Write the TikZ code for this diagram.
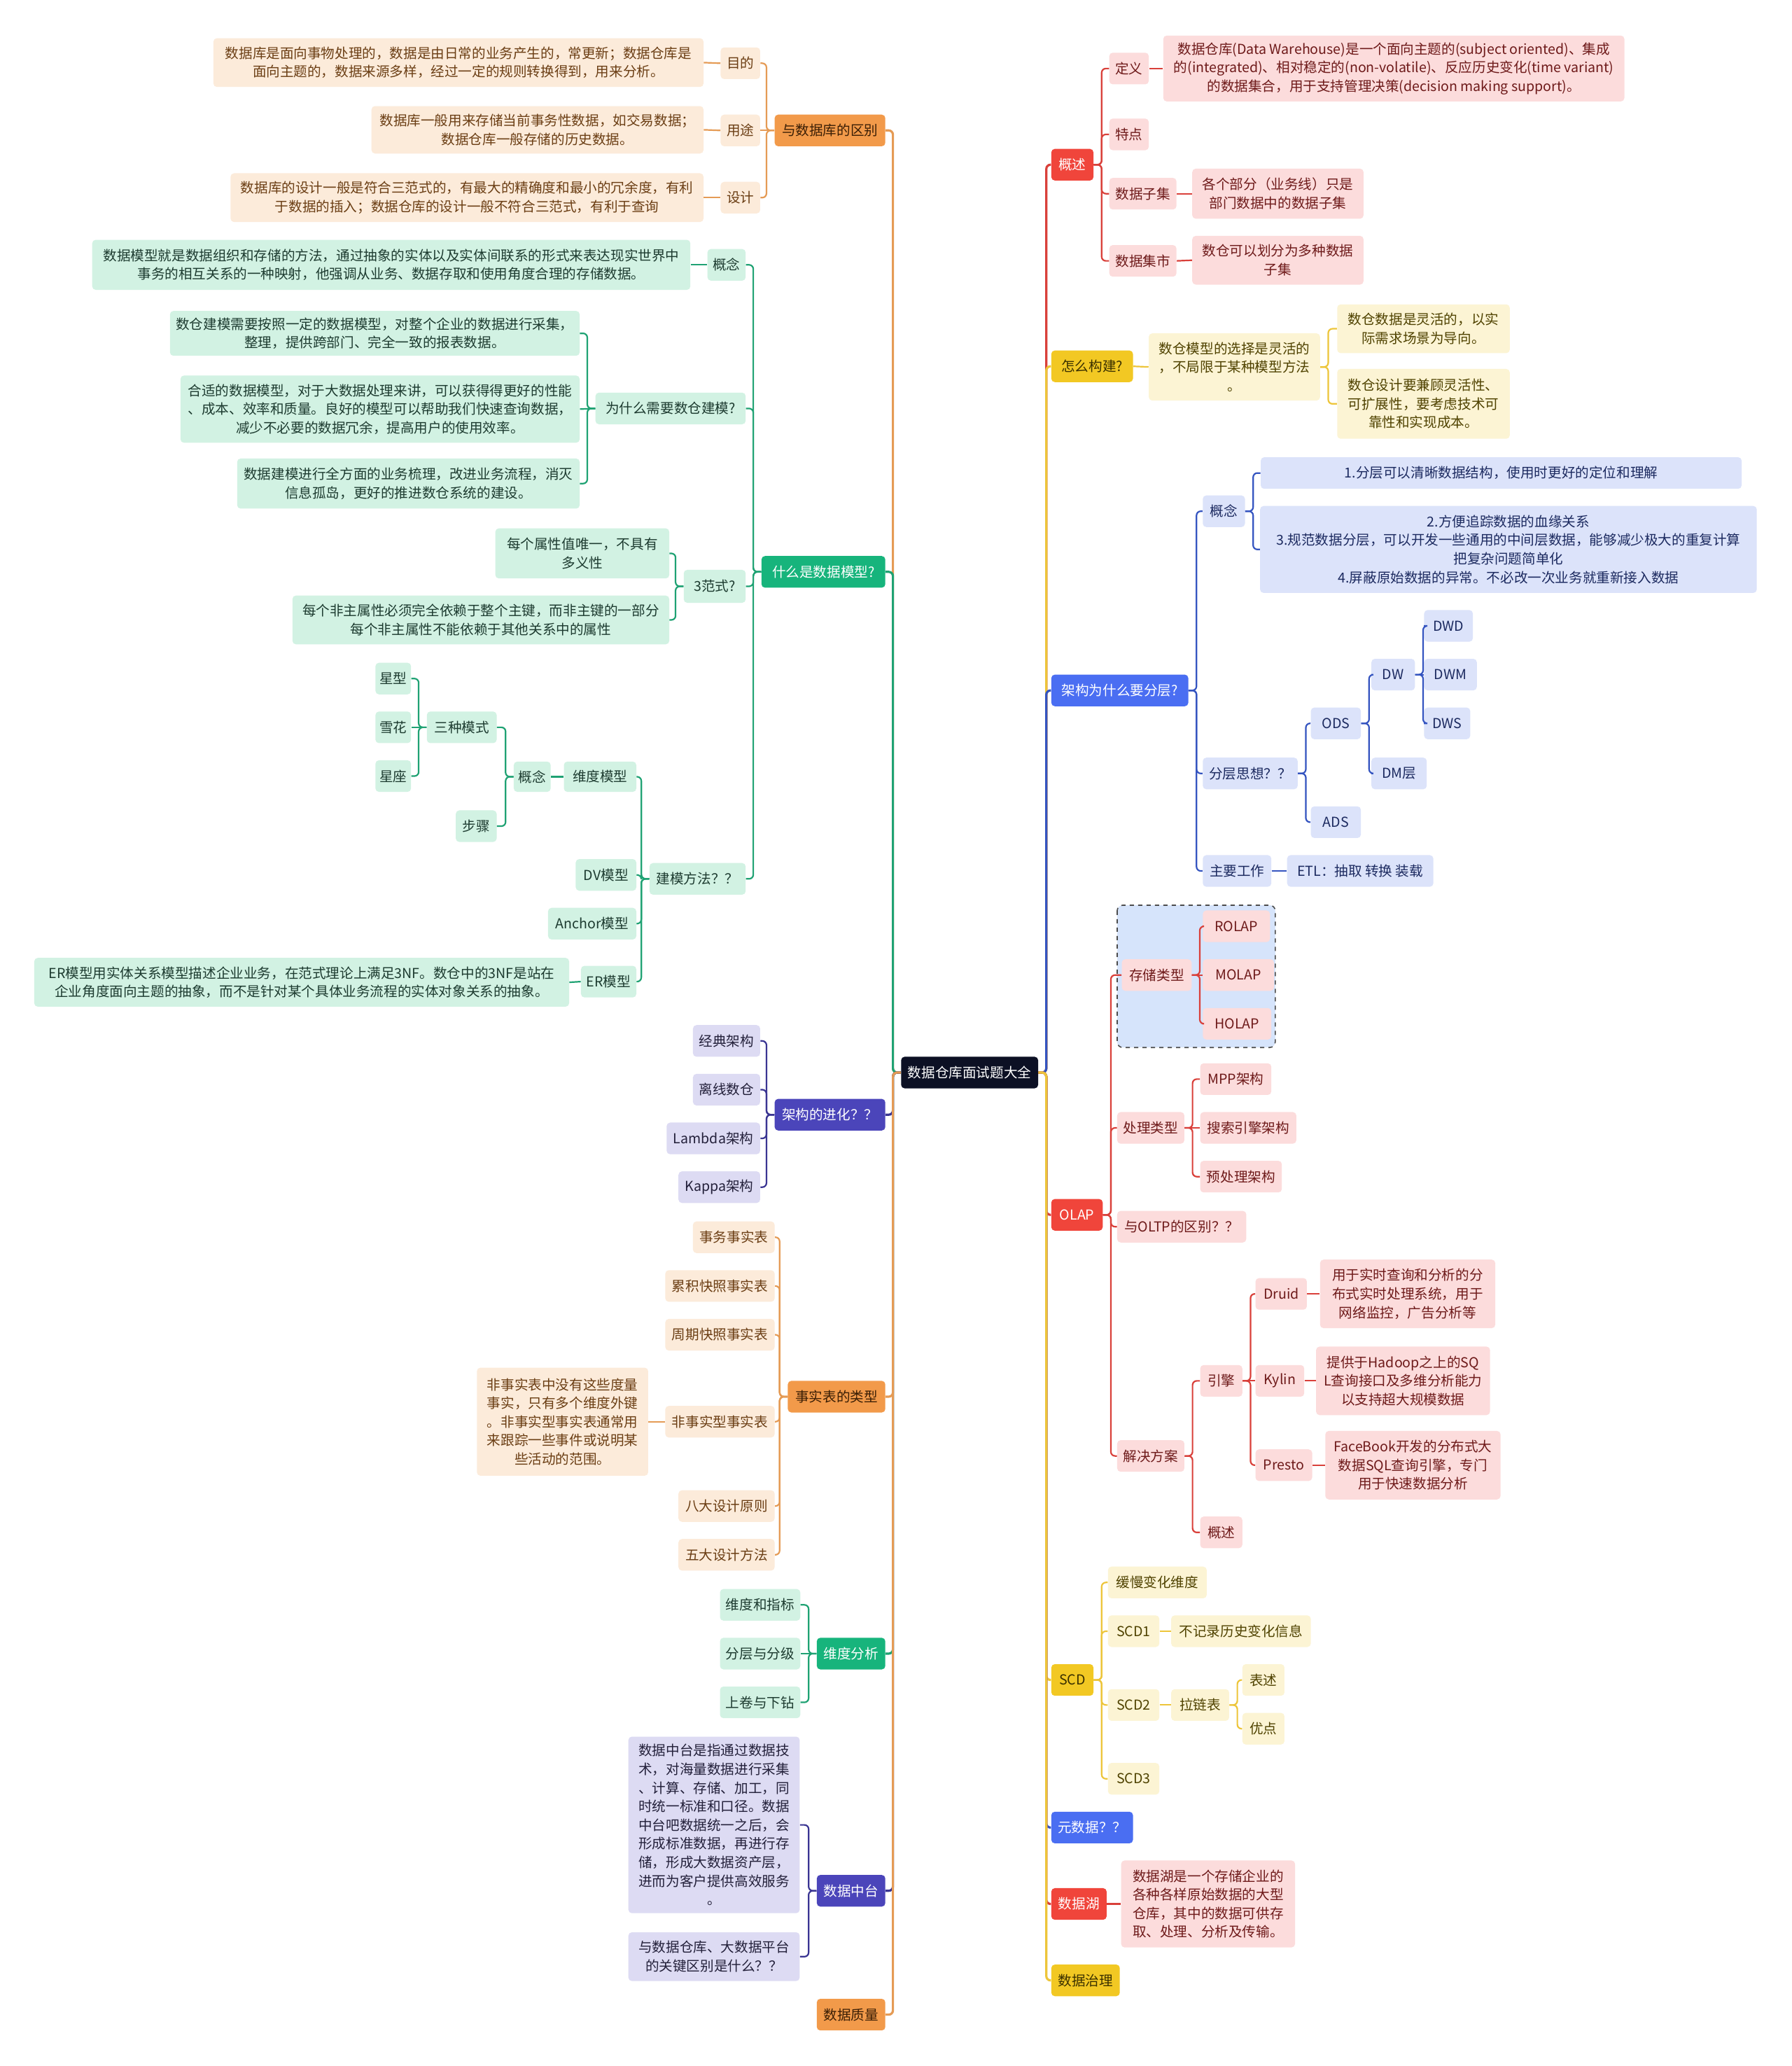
\documentclass[tikz,border=0pt]{standalone}
\usepackage{fontspec}
\setmainfont{Noto Sans CJK SC}
\usetikzlibrary{calc}
\definecolor{rootC}{HTML}{0C1024}
\definecolor{orM}{HTML}{F29A4A}\definecolor{orL}{HTML}{FCEBDA}\definecolor{orT}{HTML}{6B3E14}\definecolor{orMT}{HTML}{3A1E05}\definecolor{orC}{HTML}{E59B55}
\definecolor{grM}{HTML}{17B47C}\definecolor{grL}{HTML}{D2F2E3}\definecolor{grT}{HTML}{1D3B30}\definecolor{grC}{HTML}{1FA273}
\definecolor{puM}{HTML}{4B45BA}\definecolor{puL}{HTML}{DDDBF3}\definecolor{puT}{HTML}{23203A}\definecolor{puC}{HTML}{3A3592}
\definecolor{rdM}{HTML}{F0453B}\definecolor{rdL}{HTML}{FCDCDC}\definecolor{rdT}{HTML}{6E1A1A}\definecolor{rdC}{HTML}{D9403A}
\definecolor{ylM}{HTML}{F2C823}\definecolor{ylL}{HTML}{FCF4D4}\definecolor{ylT}{HTML}{4F4200}\definecolor{ylMT}{HTML}{3A3000}\definecolor{ylC}{HTML}{EDC53A}
\definecolor{blM}{HTML}{4A6EF2}\definecolor{blL}{HTML}{DCE3FA}\definecolor{blT}{HTML}{1C2A60}\definecolor{blC}{HTML}{3454C0}
\definecolor{grpC}{HTML}{D6E4FB}
\tikzset{
 base/.style={rounded corners=2.5pt, inner xsep=2pt, inner ysep=1pt, align=center, font=\fontsize{9.8}{13.3}\selectfont},
 sz/.style 2 args={minimum width=#1*0.9412pt, minimum height=#2*0.9412pt},
 rootst/.style={base, fill=rootC, text=white},
 mO/.style={base, fill=orM, text=orMT}, lO/.style={base, fill=orL, text=orT},
 mG/.style={base, fill=grM, text=white}, lG/.style={base, fill=grL, text=grT},
 mP/.style={base, fill=puM, text=white}, lP/.style={base, fill=puL, text=puT},
 mR/.style={base, fill=rdM, text=white}, lR/.style={base, fill=rdL, text=rdT},
 mY/.style={base, fill=ylM, text=ylMT}, lY/.style={base, fill=ylL, text=ylT},
 mB/.style={base, fill=blM, text=white}, lB/.style={base, fill=blL, text=blT},
 cO/.style={draw=orC, line width=1.1pt, rounded corners=3pt},
 cG/.style={draw=grC, line width=1.1pt, rounded corners=3pt},
 cP/.style={draw=puC, line width=1.1pt, rounded corners=3pt},
 cR/.style={draw=rdC, line width=1.1pt, rounded corners=3pt},
 cY/.style={draw=ylC, line width=1.1pt, rounded corners=3pt},
 cB/.style={draw=blC, line width=1.1pt, rounded corners=3pt},
 trunk/.style={line width=1.6pt},
}
\newcommand\Lk[3]{\draw[#1] (#2.west) -- ++(-6,0) |- (#3.east);}
\newcommand\Rk[3]{\draw[#1] (#2.east) -- ++(6,0) |- (#3.west);}
\newcommand\Ls[3]{\draw[#1] (#2.west) -- (#3.east);}
\newcommand\Rs[3]{\draw[#1] (#2.east) -- (#3.west);}
\begin{document}
\begin{tikzpicture}[x=0.9412pt, y=-0.9412pt]
\useasboundingbox (0,0) rectangle (1360,1568);
\fill[white] (0,0) rectangle (1360,1568);
\draw[dashed, draw=black!70, fill=grpC, rounded corners=4pt, line width=0.8pt] (848,687) rectangle (968,795);

% root
\node[rootst, sz={104}{24}] (root) at (736,814) {数据仓库面试题大全};

% ---------- left 1
\node[mO, sz={84}{24}] (b1) at (630,99) {与数据库的区别};
\node[lO, sz={30}{24}] (b1a) at (562,48) {目的};
\node[lO, sz={30}{24}] (b1b) at (562,99) {用途};
\node[lO, sz={30}{24}] (b1c) at (562,150) {设计};
\node[lO, sz={372}{37}] (b1a1) at (348,47.5) {数据库是面向事物处理的，数据是由日常的业务产生的，常更新；数据仓库是\\面向主题的，数据来源多样，经过一定的规则转换得到，用来分析。};
\node[lO, sz={252}{36}] (b1b1) at (408,98.5) {数据库一般用来存储当前事务性数据，如交易数据；\\数据仓库一般存储的历史数据。};
\node[lO, sz={359}{37}] (b1c1) at (354.5,150) {数据库的设计一般是符合三范式的，有最大的精确度和最小的冗余度，有利\\于数据的插入；数据仓库的设计一般不符合三范式，有利于查询};

% ---------- left 2
\node[mG, sz={94}{24}] (b2) at (625,434) {什么是数据模型?};
\node[lG, sz={29}{24}] (b2a) at (551.5,201) {概念};
\node[lG, sz={454}{38}] (b2a1) at (297,201) {数据模型就是数据组织和存储的方法，通过抽象的实体以及实体间联系的形式来表达现实世界中\\事务的相互关系的一种映射，他强调从业务、数据存取和使用角度合理的存储数据。};
\node[lG, sz={114}{24}] (b2b) at (509,310) {为什么需要数仓建模?};
\node[lG, sz={311}{34}] (b2b1) at (284.5,253) {数仓建模需要按照一定的数据模型，对整个企业的数据进行采集，\\整理，提供跨部门、完全一致的报表数据。};
\node[lG, sz={303}{51}] (b2b2) at (288.5,310.5) {合适的数据模型，对于大数据处理来讲，可以获得得更好的性能\\、成本、效率和质量。良好的模型可以帮助我们快速查询数据，\\减少不必要的数据冗余，提高用户的使用效率。};
\node[lG, sz={260}{38}] (b2b3) at (310,367) {数据建模进行全方面的业务梳理，改进业务流程，消灭\\信息孤岛，更好的推进数仓系统的建设。};
\node[lG, sz={47}{25}] (b2c) at (542.5,445) {3范式?};
\node[lG, sz={132}{38}] (b2c1) at (442,420) {每个属性值唯一，不具有\\多义性};
\node[lG, sz={286}{37}] (b2c2) at (365,470.5) {每个非主属性必须完全依赖于整个主键，而非主键的一部分\\每个非主属性不能依赖于其他关系中的属性};
\node[lG, sz={73}{24}] (b2d) at (529.5,667) {建模方法？？};
\node[lG, sz={55}{23}] (dm) at (455.5,589.5) {维度模型};
\node[lG, sz={28}{23}] (dmgn) at (404,589.5) {概念};
\node[lG, sz={53}{24}] (szms) at (350.5,552) {三种模式};
\node[lG, sz={31}{24}] (bz) at (361.5,627) {步骤};
\node[lG, sz={27}{24}] (xx) at (298.5,515) {星型};
\node[lG, sz={27}{24}] (xh) at (298.5,552) {雪花};
\node[lG, sz={27}{24}] (xz) at (298.5,589) {星座};
\node[lG, sz={46}{24}] (dv) at (460,664) {DV模型};
\node[lG, sz={67}{24}] (an) at (449.5,701) {Anchor模型};
\node[lG, sz={42}{24}] (er) at (462,745) {ER模型};
\node[lG, sz={406}{37}] (er1) at (229,745.5) {ER模型用实体关系模型描述企业业务，在范式理论上满足3NF。数仓中的3NF是站在\\企业角度面向主题的抽象，而不是针对某个具体业务流程的实体对象关系的抽象。};

% ---------- left 3
\node[mP, sz={84}{24}] (b3) at (630,846) {架构的进化？？};
\node[lP, sz={51}{24}] (jd) at (551.5,790) {经典架构};
\node[lP, sz={51}{24}] (lx) at (551.5,827) {离线数仓};
\node[lP, sz={71}{24}] (lm) at (541.5,864) {Lambda架构};
\node[lP, sz={62}{24}] (kp) at (546,901) {Kappa架构};

% ---------- left 4
\node[mO, sz={74}{24}] (b4) at (635,1060) {事实表的类型};
\node[lO, sz={62}{24}] (sw) at (557,939) {事务事实表};
\node[lO, sz={83}{24}] (lj) at (546.5,976) {累积快照事实表};
\node[lO, sz={83}{24}] (zq) at (546.5,1013) {周期快照事实表};
\node[lO, sz={83}{24}] (fs) at (546.5,1079) {非事实型事实表};
\node[lO, sz={130}{82}] (fs1) at (427,1079) {非事实表中没有这些度量\\事实，只有多个维度外键\\。非事实型事实表通常用\\来跟踪一些事件或说明某\\些活动的范围。};
\node[lO, sz={73}{24}] (bd) at (551.5,1143) {八大设计原则};
\node[lO, sz={73}{24}] (wdf) at (551.5,1180) {五大设计方法};

% ---------- left 5
\node[mG, sz={52}{24}] (b5) at (646,1255) {维度分析};
\node[lG, sz={61}{24}] (wd1) at (577,1218) {维度和指标};
\node[lG, sz={61}{24}] (wd2) at (577,1255) {分层与分级};
\node[lG, sz={61}{24}] (wd3) at (577,1292) {上卷与下钻};

% ---------- left 6
\node[mP, sz={52}{24}] (b6) at (646,1435) {数据中台};
\node[lP, sz={130}{134}] (zt1) at (542,1385) {数据中台是指通过数据技\\术，对海量数据进行采集\\、计算、存储、加工，同\\时统一标准和口径。数据\\中台吧数据统一之后，会\\形成标准数据，再进行存\\储，形成大数据资产层，\\进而为客户提供高效服务\\。};
\node[lP, sz={130}{37}] (zt2) at (542,1485) {与数据仓库、大数据平台\\的关键区别是什么？？};

% ---------- left 7
\node[mO, sz={52}{24}] (b7) at (646,1529) {数据质量};

% ---------- right 1
\node[mR, sz={32}{24}] (r1) at (814,125) {概述};
\node[lR, sz={30}{24}] (dy) at (857,52) {定义};
\node[lR, sz={30}{24}] (td) at (857,102) {特点};
\node[lR, sz={51}{24}] (zj) at (867.5,147) {数据子集};
\node[lR, sz={51}{24}] (js) at (867.5,198) {数据集市};
\node[lR, sz={350}{50}] (dy1) at (1058,52) {数据仓库(Data Warehouse)是一个面向主题的(subject oriented)、集成\\的(integrated)、相对稳定的(non-volatile)、反应历史变化(time variant)\\的数据集合，用于支持管理决策(decision making support)。};
\node[lR, sz={130}{38}] (zj1) at (970,147) {各个部分（业务线）只是\\部门数据中的数据子集};
\node[lR, sz={130}{37}] (js1) at (970,197.5) {数仓可以划分为多种数据\\子集};

% ---------- right 2
\node[mY, sz={62}{24}] (r2) at (829,278) {怎么构建?};
\node[lY, sz={130}{51}] (gj) at (937,278.5) {数仓模型的选择是灵活的\\，不局限于某种模型方法\\。};
\node[lY, sz={131}{37}] (gj1) at (1080.5,249.5) {数仓数据是灵活的，以实\\际需求场景为导向。};
\node[lY, sz={131}{53}] (gj2) at (1080.5,306.5) {数仓设计要兼顾灵活性、\\可扩展性，要考虑技术可\\靠性和实现成本。};

% ---------- right 3
\node[mB, sz={104}{24}] (r3) at (850,524) {架构为什么要分层?};
\node[lB, sz={32}{24}] (fc1) at (929,388) {概念};
\node[lB, sz={365}{24}] (fc1a) at (1139.5,359) {1.分层可以清晰数据结构，使用时更好的定位和理解};
\node[lB, sz={377}{66}] (fc1b) at (1145,417) {2.方便追踪数据的血缘关系\\3.规范数据分层，可以开发一些通用的中间层数据，能够减少极大的重复计算\\把复杂问题简单化\\4.屏蔽原始数据的异常。不必改一次业务就重新接入数据};
\node[lB, sz={72}{24}] (fcsx) at (949,587) {分层思想？？};
\node[lB, sz={38}{24}] (ods) at (1014,549) {ODS};
\node[lB, sz={38}{24}] (ads) at (1014,624) {ADS};
\node[lB, sz={33}{24}] (dw) at (1057.5,512) {DW};
\node[lB, sz={42}{24}] (dmc) at (1062,587) {DM层};
\node[lB, sz={37}{24}] (dwd) at (1099.5,475) {DWD};
\node[lB, sz={40}{24}] (dwm) at (1101,512) {DWM};
\node[lB, sz={35}{24}] (dws) at (1098.5,549) {DWS};
\node[lB, sz={52}{24}] (zygz) at (939,661) {主要工作};
\node[lB, sz={111}{24}] (etl) at (1032.5,661) {ETL：抽取 转换 装载};

% ---------- right 4
\node[mR, sz={39}{24}] (r4) at (817.5,922) {OLAP};
\node[lR, sz={53}{24}] (cclx) at (878,740) {存储类型};
\node[lR, sz={51}{24}] (rolap) at (938.5,703) {ROLAP};
\node[lR, sz={54}{24}] (molap) at (940,740) {MOLAP};
\node[lR, sz={52}{24}] (holap) at (939,777) {HOLAP};
\node[lR, sz={51}{24}] (cllx) at (873.5,856) {处理类型};
\node[lR, sz={54}{24}] (mpp) at (938,819) {MPP架构};
\node[lR, sz={73}{24}] (ssyq) at (947.5,856) {搜索引擎架构};
\node[lR, sz={62}{24}] (ycl) at (942,893) {预处理架构};
\node[lR, sz={98}{24}] (oltp) at (897,931) {与OLTP的区别？？};
\node[lR, sz={51}{24}] (jjfa) at (873.5,1105) {解决方案};
\node[lR, sz={32}{24}] (yq) at (927,1048) {引擎};
\node[lR, sz={32}{24}] (gs) at (927,1163) {概述};
\node[lR, sz={39}{24}] (druid) at (972.5,982) {Druid};
\node[lR, sz={37}{24}] (kylin) at (971.5,1048) {Kylin};
\node[lR, sz={43}{24}] (presto) at (974.5,1112) {Presto};
\node[lR, sz={133}{52}] (druid1) at (1068.5,982) {用于实时查询和分析的分\\布式实时处理系统，用于\\网络监控，广告分析等};
\node[lR, sz={132}{52}] (kylin1) at (1065,1048) {提供于Hadoop之上的SQ\\L查询接口及多维分析能力\\以支持超大规模数据};
\node[lR, sz={133}{52}] (presto1) at (1072.5,1112) {FaceBook开发的分布式大\\数据SQL查询引擎，专门\\用于快速数据分析};

% ---------- right 5
\node[mY, sz={32}{24}] (r5) at (814,1275) {SCD};
\node[lY, sz={75}{24}] (hm) at (878.5,1201) {缓慢变化维度};
\node[lY, sz={39}{24}] (scd1) at (860.5,1238) {SCD1};
\node[lY, sz={39}{24}] (scd2) at (860.5,1294) {SCD2};
\node[lY, sz={39}{24}] (scd3) at (860.5,1350) {SCD3};
\node[lY, sz={106}{24}] (scd1a) at (942,1238) {不记录历史变化信息};
\node[lY, sz={44}{24}] (llb) at (911,1294) {拉链表};
\node[lY, sz={32}{24}] (bs) at (959,1275) {表述};
\node[lY, sz={32}{24}] (yd) at (959,1312) {优点};

% ---------- right 6-8
\node[mB, sz={62}{24}] (r6) at (829,1387) {元数据？？};
\node[mR, sz={42}{24}] (r7) at (819,1445) {数据湖};
\node[lR, sz={132}{66}] (hu) at (917,1445) {数据湖是一个存储企业的\\各种各样原始数据的大型\\仓库，其中的数据可供存\\取、处理、分析及传输。};
\node[mY, sz={52}{24}] (r8) at (824,1503) {数据治理};

% ================= connectors
% root left
\Lk{cO,trunk}{root}{b1}
\Lk{cG,trunk}{root}{b2}
\Lk{cP,trunk}{root}{b3}
\Lk{cO,trunk}{root}{b4}
\Lk{cG,trunk}{root}{b5}
\Lk{cP,trunk}{root}{b6}
\Lk{cO,trunk}{root}{b7}
% root right
\Rk{cR,trunk}{root}{r1}
\Rk{cY,trunk}{root}{r2}
\Rk{cB,trunk}{root}{r3}
\Rk{cR,trunk}{root}{r4}
\Rk{cY,trunk}{root}{r5}
\Rk{cB,trunk}{root}{r6}
\Rk{cR,trunk}{root}{r7}
\Rk{cY,trunk}{root}{r8}

% left 1
\Lk{cO}{b1}{b1a}\Ls{cO}{b1}{b1b}\Lk{cO}{b1}{b1c}
\Ls{cO}{b1a}{b1a1}\Ls{cO}{b1b}{b1b1}\Ls{cO}{b1c}{b1c1}
% left 2
\Lk{cG}{b2}{b2a}\Lk{cG}{b2}{b2b}\Lk{cG}{b2}{b2c}\Lk{cG}{b2}{b2d}
\Ls{cG}{b2a}{b2a1}
\Lk{cG}{b2b}{b2b1}\Ls{cG}{b2b}{b2b2}\Lk{cG}{b2b}{b2b3}
\Lk{cG}{b2c}{b2c1}\Lk{cG}{b2c}{b2c2}
\Lk{cG}{b2d}{dm}\Lk{cG}{b2d}{dv}\Lk{cG}{b2d}{an}\Lk{cG}{b2d}{er}
\Ls{cG}{dm}{dmgn}
\Lk{cG}{dmgn}{szms}\Lk{cG}{dmgn}{bz}
\Lk{cG}{szms}{xx}\Ls{cG}{szms}{xh}\Lk{cG}{szms}{xz}
\Ls{cG}{er}{er1}
% left 3
\Lk{cP}{b3}{jd}\Lk{cP}{b3}{lx}\Lk{cP}{b3}{lm}\Lk{cP}{b3}{kp}
% left 4
\Lk{cO}{b4}{sw}\Lk{cO}{b4}{lj}\Lk{cO}{b4}{zq}\Lk{cO}{b4}{fs}\Lk{cO}{b4}{bd}\Lk{cO}{b4}{wdf}
\Ls{cO}{fs}{fs1}
% left 5
\Lk{cG}{b5}{wd1}\Ls{cG}{b5}{wd2}\Lk{cG}{b5}{wd3}
% left 6
\Lk{cP}{b6}{zt1}\Lk{cP}{b6}{zt2}

% right 1
\Rk{cR}{r1}{dy}\Rk{cR}{r1}{td}\Rk{cR}{r1}{zj}\Rk{cR}{r1}{js}
\Rs{cR}{dy}{dy1}\Rs{cR}{zj}{zj1}\Rs{cR}{js}{js1}
% right 2
\Rs{cY}{r2}{gj}
\Rk{cY}{gj}{gj1}\Rk{cY}{gj}{gj2}
% right 3
\Rk{cB}{r3}{fc1}\Rk{cB}{r3}{fcsx}\Rk{cB}{r3}{zygz}
\Rk{cB}{fc1}{fc1a}\Rk{cB}{fc1}{fc1b}
\Rk{cB}{fcsx}{ods}\Rk{cB}{fcsx}{ads}
\Rk{cB}{ods}{dw}\Rk{cB}{ods}{dmc}
\Rk{cB}{dw}{dwd}\Rs{cB}{dw}{dwm}\Rk{cB}{dw}{dws}
\Rs{cB}{zygz}{etl}
% right 4
\Rk{cR}{r4}{cclx}\Rk{cR}{r4}{cllx}\Rk{cR}{r4}{oltp}\Rk{cR}{r4}{jjfa}
\Rk{cR}{cclx}{rolap}\Rs{cR}{cclx}{molap}\Rk{cR}{cclx}{holap}
\Rk{cR}{cllx}{mpp}\Rs{cR}{cllx}{ssyq}\Rk{cR}{cllx}{ycl}
\Rk{cR}{jjfa}{yq}\Rk{cR}{jjfa}{gs}
\Rk{cR}{yq}{druid}\Rs{cR}{yq}{kylin}\Rk{cR}{yq}{presto}
\Rs{cR}{druid}{druid1}\Rs{cR}{kylin}{kylin1}\Rs{cR}{presto}{presto1}
% right 5
\Rk{cY}{r5}{hm}\Rk{cY}{r5}{scd1}\Rk{cY}{r5}{scd2}\Rk{cY}{r5}{scd3}
\Rs{cY}{scd1}{scd1a}\Rs{cY}{scd2}{llb}
\Rk{cY}{llb}{bs}\Rk{cY}{llb}{yd}
% right 7
\Rs{cR}{r7}{hu}
\end{tikzpicture}
\end{document}
